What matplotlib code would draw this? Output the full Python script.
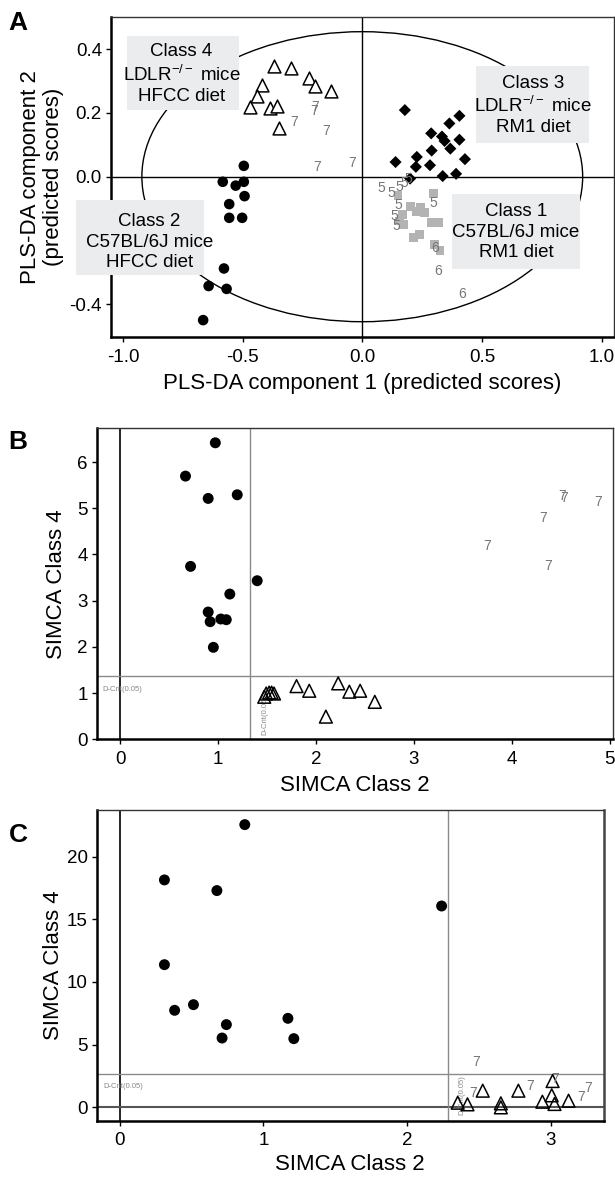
import numpy as np
import matplotlib
matplotlib.use('Agg')
import matplotlib.pyplot as plt
from matplotlib.patches import Ellipse, Rectangle

plt.rcParams['font.family'] = ['Liberation Sans', 'DejaVu Sans']
plt.rcParams['mathtext.fontset'] = 'custom'
plt.rcParams['mathtext.rm'] = 'Liberation Sans'
plt.rcParams['mathtext.it'] = 'Liberation Sans:italic'
plt.rcParams['mathtext.bf'] = 'Liberation Sans:bold'
plt.rcParams['axes.unicode_minus'] = False

# ---------------- Panel A data (PLS-DA predicted scores) ----------------
a_class1_x = [0.149, 0.297, 0.200, 0.242, 0.169, 0.260, 0.228, 0.156, 0.172, 0.288, 0.319, 0.214, 0.239, 0.301, 0.325]
a_class1_y = [-0.059, -0.052, -0.094, -0.097, -0.118, -0.113, -0.108, -0.139, -0.151, -0.143, -0.143, -0.192, -0.181, -0.213, -0.231]
a_class2_x = [-0.495, -0.583, -0.529, -0.495, -0.492, -0.556, -0.556, -0.502, -0.578, -0.642, -0.567, -0.665]
a_class2_y = [0.034, -0.016, -0.028, -0.016, -0.061, -0.086, -0.129, -0.129, -0.288, -0.343, -0.352, -0.450]
a_class3_x = [0.178, 0.406, 0.364, 0.288, 0.333, 0.344, 0.406, 0.368, 0.290, 0.228, 0.429, 0.139, 0.224, 0.283, 0.336, 0.392, 0.200]
a_class3_y = [0.209, 0.191, 0.167, 0.136, 0.126, 0.112, 0.116, 0.088, 0.082, 0.062, 0.055, 0.046, 0.031, 0.036, 0.002, 0.009, -0.006]
a_class4_x = [-0.368, -0.297, -0.420, -0.441, -0.469, -0.384, -0.358, -0.346, -0.221, -0.196, -0.131]
a_class4_y = [0.346, 0.340, 0.288, 0.253, 0.218, 0.215, 0.222, 0.152, 0.309, 0.285, 0.270]
a_obs5_x = [0.079, 0.121, 0.156, 0.176, 0.194, 0.151, 0.132, 0.144, 0.297]
a_obs5_y = [-0.035, -0.050, -0.031, -0.021, -0.008, -0.090, -0.122, -0.155, -0.084]
a_obs6_x = [0.306, 0.319, 0.417]
a_obs6_y = [-0.223, -0.295, -0.367]
a_obs7_x = [-0.198, -0.203, -0.283, -0.150, -0.188, -0.041]
a_obs7_y = [0.220, 0.207, 0.173, 0.143, 0.031, 0.042]
a_xticks = [-1.0, -0.5, 0.0, 0.5, 1.0]
a_yticks = [-0.4, 0.0, 0.2, 0.4]

# ---------------- Panel B data (SIMCA distances) ----------------
b_class2_x = [0.970, 0.665, 0.897, 1.194, 0.717, 1.398, 1.118, 0.897, 0.917, 1.026, 1.082, 0.950]
b_class2_y = [6.417, 5.696, 5.213, 5.292, 3.742, 3.432, 3.143, 2.754, 2.545, 2.603, 2.588, 1.990]
b_class4_x = [1.47, 1.49, 1.52, 1.545, 1.57, 1.80, 1.93, 2.10, 2.226, 2.34, 2.45, 2.60]
b_class4_y = [0.92, 0.99, 1.01, 1.01, 0.99, 1.15, 1.05, 0.49, 1.21, 1.03, 1.05, 0.81]
b_obs7_x = [3.75, 4.32, 4.51, 4.54, 4.88, 4.37]
b_obs7_y = [4.19, 4.80, 5.26, 5.23, 5.14, 3.76]
b_dcrit_x = 1.326
b_dcrit_y = 1.37
b_xticks = [0, 1, 2, 3, 4, 5]
b_yticks = [0, 1, 2, 3, 4, 5, 6]

# ---------------- Panel C data (SIMCA distances) ----------------
c_class2_x = [0.870, 0.311, 0.676, 2.239, 0.311, 0.513, 0.382, 0.742, 1.170, 0.712, 1.211]
c_class2_y = [22.55, 18.14, 17.29, 16.06, 11.38, 8.19, 7.74, 6.60, 7.10, 5.53, 5.48]
c_class4_x = [2.351, 2.419, 2.525, 2.651, 2.651, 2.773, 2.940, 3.011, 3.005, 3.024, 3.122]
c_class4_y = [0.37, 0.24, 1.33, 0.32, 0.00, 1.33, 0.45, 2.10, 0.96, 0.27, 0.53]
c_obs7_x = [2.48, 2.46, 2.855, 3.03, 3.21, 3.26]
c_obs7_y = [3.64, 1.12, 1.70, 2.23, 0.80, 1.52]
c_dcrit_x = 2.283
c_dcrit_y = 2.66
c_xticks = [0, 1, 2, 3]
c_yticks = [0, 5, 10, 15, 20]

GRAY_TXT = '#767676'
BOX = '#ebecee'
TICK_FS = 13.5
LABEL_FS = 16

fig = plt.figure(figsize=(6.15, 11.8), dpi=100)
axA = fig.add_axes([0.1805, 0.7144, 0.8179, 0.2709])
axB = fig.add_axes([0.157, 0.3735, 0.839, 0.2635])
axC = fig.add_axes([0.157, 0.0503, 0.825, 0.2633])


def style(ax, right_color='#333333', right_lw=1.0):
    for s in ['left', 'bottom']:
        ax.spines[s].set_linewidth(1.8)
        ax.spines[s].set_color('black')
    ax.spines['top'].set_linewidth(1.0)
    ax.spines['top'].set_color('#333333')
    ax.spines['right'].set_linewidth(right_lw)
    ax.spines['right'].set_color(right_color)
    ax.tick_params(direction='out', length=3.5, width=1, labelsize=TICK_FS,
                   top=False, right=False)
    ax.tick_params(axis='x', pad=5)
    ax.tick_params(axis='y', pad=3)


# ---------------- Panel A ----------------
ax = axA
style(ax)
ax.set_xlim(-1.05, 1.052)
ax.set_ylim(-0.503, 0.50)
ax.axhline(0, color='black', lw=1.0, zorder=1)
ax.axvline(0, color='black', lw=1.0, zorder=1)
ax.add_patch(Ellipse((0, 0), 2 * 0.921, 2 * 0.455, fill=False, edgecolor='black', lw=1.0, zorder=1))
ax.scatter(a_class1_x, a_class1_y, marker='s', s=40, color='#b3b3b3', edgecolors='none', zorder=3)
ax.scatter(a_class3_x, a_class3_y, marker='D', s=38, color='black', edgecolors='none', zorder=3)
ax.scatter(a_class2_x, a_class2_y, marker='o', s=58, color='black', edgecolors='none', zorder=3)
ax.scatter(a_class4_x, a_class4_y, marker='^', s=85, facecolors='white', edgecolors='black',
           linewidths=1.1, zorder=3)
for lab, xs, ys in [('5', a_obs5_x, a_obs5_y), ('6', a_obs6_x, a_obs6_y), ('7', a_obs7_x, a_obs7_y)]:
    for x, y in zip(xs, ys):
        ax.text(x, y, lab, fontsize=10, color=GRAY_TXT, ha='center', va='center', zorder=4)

boxes = [
    ((-0.985, 0.209), 0.469, 0.233, (-0.755, 0.322), 'Class 4\nLDLR$^{\\mathrm{-/-}}$ mice\nHFCC diet'),
    ((0.475, 0.107), 0.474, 0.239, (0.713, 0.223), 'Class 3\nLDLR$^{\\mathrm{-/-}}$ mice\nRM1 diet'),
    ((-1.198, -0.310), 0.535, 0.237, (-0.889, -0.205), 'Class 2\nC57BL/6J mice\nHFCC diet'),
    ((0.376, -0.291), 0.532, 0.237, (0.642, -0.174), 'Class 1\nC57BL/6J mice\nRM1 diet'),
]
for (x0, y0), w, h, (tx, ty), txt in boxes:
    ax.add_patch(Rectangle((x0, y0), w, h, facecolor=BOX, edgecolor='none', zorder=5, clip_on=False))
    ax.text(tx, ty, txt, fontsize=13.5, ha='center', va='center', linespacing=1.25,
            zorder=6, clip_on=False)

ax.set_xticks(a_xticks)
ax.set_xticklabels(['%.1f' % v for v in a_xticks])
ax.set_yticks(a_yticks)
ax.set_yticklabels(['%.1f' % v for v in a_yticks])
ax.set_xlabel('PLS-DA component 1 (predicted scores)', fontsize=LABEL_FS, labelpad=5)
ax.set_ylabel('PLS-DA component 2\n(predicted scores)', fontsize=LABEL_FS, labelpad=4, linespacing=1.15)

# ---------------- Panel B ----------------
ax = axB
style(ax)
ax.set_xlim(-0.244, 5.03)
ax.set_ylim(0, 6.73)
ax.axvline(0, color='black', lw=1.2, zorder=1)
ax.axvline(b_dcrit_x, color='#8a8a8a', lw=1.0, zorder=1)
ax.axhline(b_dcrit_y, color='#8a8a8a', lw=1.0, zorder=1)
ax.text(-0.18, 1.08, 'D-Crit(0.05)', fontsize=5.5, color='#888888', ha='left', va='center', zorder=2)
ax.text(b_dcrit_x + 0.148, 0.09, 'D-Crit(0.05)', fontsize=5.5, color='#888888', rotation=90,
        ha='center', va='bottom', zorder=2)
ax.scatter(b_class2_x, b_class2_y, marker='o', s=62, color='black', edgecolors='none', zorder=3)
ax.scatter(b_class4_x, b_class4_y, marker='^', s=85, facecolors='none', edgecolors='black',
           linewidths=1.1, zorder=3)
for x, y in zip(b_obs7_x, b_obs7_y):
    ax.text(x, y, '7', fontsize=10, color=GRAY_TXT, ha='center', va='center', zorder=4)
ax.set_xticks(b_xticks)
ax.set_yticks(b_yticks)
ax.set_xlabel('SIMCA Class 2', fontsize=LABEL_FS, labelpad=5)
ax.set_ylabel('SIMCA Class 4', fontsize=LABEL_FS, labelpad=7)

# ---------------- Panel C ----------------
ax = axC
style(ax, right_color='#444444', right_lw=1.8)
ax.set_xlim(-0.161, 3.368)
ax.set_ylim(-1.06, 23.72)
ax.axvline(0, color='black', lw=1.2, zorder=1)
ax.axhline(0, color='#555555', lw=1.5, zorder=1)
ax.axvline(c_dcrit_x, color='#8a8a8a', lw=1.0, zorder=1)
ax.axhline(c_dcrit_y, color='#8a8a8a', lw=1.0, zorder=1)
ax.text(-0.117, 1.65, 'D-Crit(0.05)', fontsize=5.5, color='#888888', ha='left', va='center', zorder=2)
ax.text(c_dcrit_x + 0.097, -0.6, 'D-Crit(0.05)', fontsize=5.5, color='#888888', rotation=90,
        ha='center', va='bottom', zorder=2)
ax.scatter(c_class2_x, c_class2_y, marker='o', s=62, color='black', edgecolors='none', zorder=3)
ax.scatter(c_class4_x, c_class4_y, marker='^', s=85, facecolors='none', edgecolors='black',
           linewidths=1.1, zorder=3)
for x, y in zip(c_obs7_x, c_obs7_y):
    ax.text(x, y, '7', fontsize=10, color=GRAY_TXT, ha='center', va='center', zorder=4)
ax.set_xticks(c_xticks)
ax.set_yticks(c_yticks)
ax.set_xlabel('SIMCA Class 2', fontsize=LABEL_FS, labelpad=3)
ax.set_ylabel('SIMCA Class 4', fontsize=LABEL_FS, labelpad=2)

# panel letters
fig.text(0.014, 1 - 11 / 1180, 'A', fontsize=19, fontweight='bold', va='top', ha='left')
fig.text(0.014, 1 - 430 / 1180, 'B', fontsize=19, fontweight='bold', va='top', ha='left')
fig.text(0.014, 1 - 823 / 1180, 'C', fontsize=19, fontweight='bold', va='top', ha='left')

fig.savefig('out.png', dpi=100)
